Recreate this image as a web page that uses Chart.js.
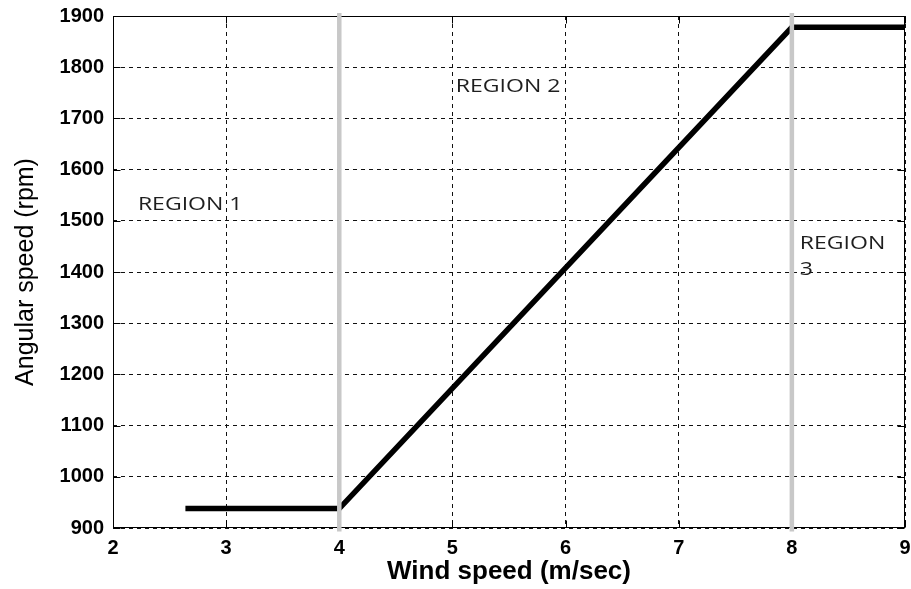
<!DOCTYPE html>
<html>
<head>
<meta charset="utf-8">
<script src="https://cdn.jsdelivr.net/npm/chart.js@4/dist/chart.umd.min.js"></script>
<style>
  html, body { margin: 0; padding: 0; background: #fff; }
  canvas { display: block; }
</style>
</head>
<body>
<canvas id="c" width="911" height="589"></canvas>
<script>
// Rotor speed schedule against wind speed
const windSpeed = [2.64, 4, 8, 9];          // m/sec
const rotorSpeed = [938, 938, 1878, 1878];  // rpm

// Boundaries between the operating regions (m/sec)
const regionBounds = [4, 8];

// Tick values on each axis
const xTicks = [2, 3, 4, 5, 6, 7, 8, 9];
const yTicks = [900, 1000, 1100, 1200, 1300, 1400, 1500, 1600, 1700, 1800, 1900];

// Region captions (lines of text)
const regionCaptions = [['REGION 1'], ['REGION 2'], ['REGION', '3']];

// Caption anchors in axis units, kept apart from the data
const captionAnchors = [
  { x: 2.22, y: 1531 },
  { x: 5.03, y: 1761 },
  { x: 8.07, y: 1455 }
];

const xMin = xTicks[0], xMax = xTicks[xTicks.length - 1];
const yMin = yTicks[0], yMax = yTicks[yTicks.length - 1];

// Solid box around the plot with short inward tick marks
const framePlugin = {
  id: 'frame',
  beforeDatasetsDraw(chart) {
    const { ctx, chartArea: a, scales: { x, y } } = chart;
    const L = Math.round(a.left) + 0.5, R = Math.round(a.right) - 0.5;
    const T = Math.round(a.top) + 0.5, B = Math.round(a.bottom) - 0.5;
    const tl = 7;
    ctx.save();
    ctx.strokeStyle = '#000';
    ctx.lineWidth = 1;
    ctx.setLineDash([]);
    ctx.strokeRect(L, T, R - L, B - T);
    ctx.beginPath();
    xTicks.forEach(v => {
      const px = Math.round(x.getPixelForValue(v)) + 0.5;
      ctx.moveTo(px, B); ctx.lineTo(px, B - tl);
      ctx.moveTo(px, T); ctx.lineTo(px, T + tl);
    });
    yTicks.forEach(v => {
      const py = Math.round(y.getPixelForValue(v)) + 0.5;
      ctx.moveTo(L, py); ctx.lineTo(L + tl, py);
      ctx.moveTo(R, py); ctx.lineTo(R - tl, py);
    });
    ctx.stroke();
    ctx.restore();
  }
};

// Region captions
const captionPlugin = {
  id: 'captions',
  afterDatasetsDraw(chart) {
    const { ctx, scales: { x, y } } = chart;
    ctx.save();
    ctx.font = '18px "Open Sans", sans-serif';
    ctx.fillStyle = '#1e1e1e';
    ctx.textAlign = 'left';
    ctx.textBaseline = 'middle';
    regionCaptions.forEach((lines, i) => {
      const px = x.getPixelForValue(captionAnchors[i].x);
      const py = y.getPixelForValue(captionAnchors[i].y);
      lines.forEach((t, k) => {
        ctx.save();
        ctx.translate(px, py + k * 26);
        ctx.scale(1.28, 1);
        ctx.fillText(t, 0, 0);
        ctx.restore();
      });
    });
    ctx.restore();
  }
};

const guideSets = regionBounds.map(b => ({
  data: [{ x: b, y: yMin - 7 }, { x: b, y: yMax + 6 }],
  borderColor: '#c8c8c8',
  borderWidth: 4.5,
  borderCapStyle: 'butt',
  pointRadius: 0,
  clip: false,
  order: 0
}));

const tickFont = { family: '"Liberation Sans", Arial, sans-serif', size: 20, weight: 'bold' };
const gridOpts = { color: '#111', lineWidth: 1, drawTicks: false, tickLength: 0 };
const dashedBorder = { display: false, dash: [4, 4] };
const noOverhang = s => { s.paddingLeft = 0; s.paddingRight = 0; s.paddingTop = 0; s.paddingBottom = 0; };

new Chart(document.getElementById('c'), {
  type: 'line',
  data: {
    datasets: [
      ...guideSets,
      {
        data: windSpeed.map((w, i) => ({ x: w, y: rotorSpeed[i] })),
        borderColor: '#000',
        borderWidth: 5.5,
        borderCapStyle: 'butt',
        borderJoinStyle: 'miter',
        pointRadius: 0,
        tension: 0,
        order: 1
      }
    ]
  },
  options: {
    responsive: false,
    devicePixelRatio: 1,
    animation: false,
    layout: { padding: { top: 16, right: 6, left: 0, bottom: 0 } },
    plugins: { legend: { display: false }, tooltip: { enabled: false } },
    scales: {
      x: {
        type: 'linear',
        min: xMin, max: xMax,
        afterFit: s => { s.height = 61; noOverhang(s); },
        afterBuildTicks: s => { s.ticks = xTicks.map(v => ({ value: v })); },
        border: dashedBorder,
        grid: gridOpts,
        ticks: { padding: 8, color: '#000', maxRotation: 0, font: tickFont, callback: v => String(v) },
        title: {
          display: true, text: 'Wind speed (m/sec)', color: '#000',
          padding: { top: 0, bottom: 2 },
          font: { family: '"Liberation Sans", Arial, sans-serif', size: 26, weight: 'bold' }
        }
      },
      y: {
        min: yMin, max: yMax,
        afterFit: s => { s.width = 113; noOverhang(s); },
        afterBuildTicks: s => { s.ticks = yTicks.map(v => ({ value: v })); },
        border: dashedBorder,
        grid: gridOpts,
        ticks: { padding: 9, color: '#000', font: tickFont, callback: v => String(v) },
        title: {
          display: true, text: 'Angular speed (rpm)', color: '#000',
          padding: { top: 11, bottom: 0 },
          font: { family: '"Liberation Sans", Arial, sans-serif', size: 25, weight: 'normal' }
        }
      }
    }
  },
  plugins: [framePlugin, captionPlugin]
});
</script>
</body>
</html>
